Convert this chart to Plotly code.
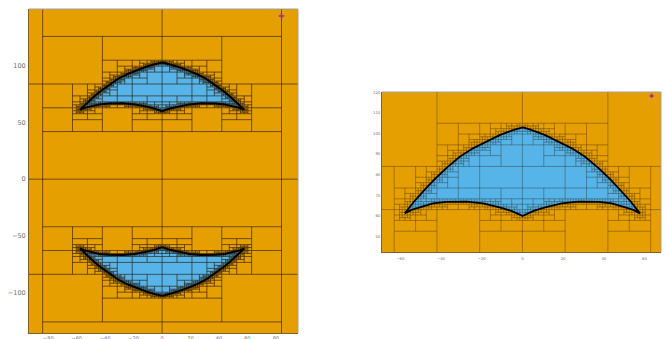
import plotly.graph_objects as go

# Boundary of the upper region (right half, mirrored for x<0)
upper_x = [0, 1.2, 4.6, 11.2, 17.7, 24.3, 30.8, 37.4, 43.0, 48.0, 53.0, 57.8]
upper_y = [103.0, 102.7, 101.7, 99.2, 96.2, 92.8, 88.7, 83.2, 77.9, 72.7, 67.2, 61.2]
lower_x = [0, 1.3, 5.5, 11.2, 19.4, 27.5, 32.5, 37.4, 43.9, 50.5, 54.5, 57.8]
lower_y = [59.9, 60.6, 62.4, 64.1, 66.0, 66.9, 67.0, 66.8, 66.0, 64.1, 62.9, 61.2]

x_ticks_left = [-80, -60, -40, -20, 0, 20, 40, 60, 80]
y_ticks_left = [-100, -50, 0, 50, 100]
x_ticks_right = [-60, -40, -20, 0, 20, 40, 60]
y_ticks_right = [50, 60, 70, 80, 90, 100, 110, 120]
marker_left = (84, 144)
marker_right = (63.5, 118.3)

ORANGE = "#E69F00"
BLUE = "#56B4E9"
ROOT = 168.0
SMALLEST_CELL = 1.3125
NEAR_PAD = 0.9

# closed outline of the upper region, going over the top then back under it
top = [(-x, y) for x, y in zip(upper_x[::-1], upper_y[::-1])] + list(zip(upper_x[1:], upper_y[1:]))
bot = [(x, y) for x, y in zip(lower_x[::-1], lower_y[::-1])] + [(-x, y) for x, y in zip(lower_x[1:], lower_y[1:])]
outline = top + bot[1:]


def crosses(x0, y0, w, h):
    """True if the outline passes through (or, for small boxes, very near) this box."""
    pad = NEAR_PAD if w <= 10.5 else 0.0
    x0, y0 = x0 - pad, y0 - pad
    x1, y1 = x0 + w + 2 * pad, y0 + h + 2 * pad
    for (ax, ay), (bx, by) in zip(outline[:-1], outline[1:]):
        t0, t1 = 0.0, 1.0
        dx, dy = bx - ax, by - ay
        ok = True
        for p, q in ((-dx, ax - x0), (dx, x1 - ax), (-dy, ay - y0), (dy, y1 - ay)):
            if p == 0:
                if q < 0:
                    ok = False
                    break
            else:
                r = q / p
                if p < 0:
                    t0 = max(t0, r)
                else:
                    t1 = min(t1, r)
        if ok and t0 <= t1:
            return True
    return False


mesh_x, mesh_y = [], []


def seg(xa, ya, xb, yb):
    mesh_x.extend([xa, xb, None])
    mesh_y.extend([ya, yb, None])


def refine(x0, y0, s):
    """Split boxes the outline crosses; empty side-by-side siblings stay joined."""
    h = s / 2
    if s <= SMALLEST_CELL or not crosses(x0, y0, s, s):
        return
    seg(x0, y0 + h, x0 + s, y0 + h)
    for yy in (y0, y0 + h):
        a = crosses(x0, yy, h, h)
        b = crosses(x0 + h, yy, h, h)
        if a or b:
            seg(x0 + h, yy, x0 + h, yy + h)
            refine(x0, yy, h)
            refine(x0 + h, yy, h)


refine(-ROOT, 0.0, ROOT)
refine(0.0, 0.0, ROOT)
mesh_lower_y = [None if v is None else -v for v in mesh_y]
all_mesh_x = mesh_x + [None] + mesh_x + [None, -ROOT, ROOT, None, 0, 0]
all_mesh_y = mesh_y + [None] + mesh_lower_y + [None, 0, 0, None, -ROOT, ROOT]

px, py = zip(*outline)
fig = go.Figure()


def add_panel(xa, ya, marker, lower, mesh_color, mesh_w, curve_w, msize):
    polys = [(px, py)] + ([(px, [-v for v in py])] if lower else [])
    for ox, oy in polys:
        fig.add_trace(go.Scatter(x=list(ox), y=list(oy), mode="lines", fill="toself", fillcolor=BLUE,
                                 line=dict(color=BLUE, width=0), hoverinfo="skip", showlegend=False,
                                 xaxis=xa, yaxis=ya))
    fig.add_trace(go.Scatter(x=all_mesh_x, y=all_mesh_y, mode="lines", line=dict(color=mesh_color, width=mesh_w),
                             hoverinfo="skip", showlegend=False, xaxis=xa, yaxis=ya))
    for ox, oy in polys:
        fig.add_trace(go.Scatter(x=list(ox), y=list(oy), mode="lines", line=dict(color="black", width=curve_w),
                                 hoverinfo="skip", showlegend=False, xaxis=xa, yaxis=ya))
    fig.add_trace(go.Scatter(x=[marker[0]], y=[marker[1]], mode="markers",
                             marker=dict(symbol="cross-thin", size=msize, line=dict(color="#A8259A", width=1.5)),
                             hoverinfo="skip", showlegend=False, xaxis=xa, yaxis=ya))


add_panel("x", "y", marker_left, True, "rgba(40,25,0,0.62)", 1, 2.0, 4)
add_panel("x2", "y2", marker_right, False, "rgba(40,25,0,0.42)", 0.8, 1.8, 3)

W, H = 667, 339


def axis_common(size, ticklen):
    return dict(showgrid=False, zeroline=False, ticks="outside", ticklen=ticklen, tickcolor="white", tickwidth=1,
                automargin=False, showline=True, linecolor="#7d6326", linewidth=1,
                tickfont=dict(family="DejaVu Sans", size=size, color="#6e6e6e"))


L = (29, 298, 9, 333)
R = (382, 661, 92, 252)
fig.update_layout(
    width=W, height=H, margin=dict(l=0, r=0, t=0, b=0), paper_bgcolor="white", plot_bgcolor=ORANGE,
    showlegend=False,
    xaxis=dict(domain=[L[0] / W, L[1] / W], range=[-93.6, 95.6], tickvals=x_ticks_left, anchor="y", **axis_common(5, 0)),
    yaxis=dict(domain=[(H - L[3]) / H, (H - L[2]) / H], range=[-135.8, 150.2], tickvals=y_ticks_left, anchor="x", **axis_common(6.5, 1)),
    xaxis2=dict(domain=[R[0] / W, R[1] / W], range=[-69, 68.1], tickvals=x_ticks_right, anchor="y2", **axis_common(3.8, 2)),
    yaxis2=dict(domain=[(H - R[3]) / H, (H - R[2]) / H], range=[42.4, 120.2], tickvals=y_ticks_right, anchor="x2", **axis_common(3.8, 0)),
    shapes=[
        dict(type="line", xref="paper", yref="paper", x0=b[0] / W, x1=b[1] / W, y0=(H - b[2]) / H, y1=(H - b[2]) / H,
             line=dict(color="#a0a0a0", width=1)) for b in (L, R)
    ] + [
        dict(type="line", xref="paper", yref="paper", x0=b[1] / W, x1=b[1] / W, y0=(H - b[2]) / H, y1=(H - b[3]) / H,
             line=dict(color="#a0a0a0", width=1)) for b in (L, R)
    ],
)
fig.write_html("out.html", config=dict(displayModeBar=False),
               post_script="document.body.style.margin='0';")
